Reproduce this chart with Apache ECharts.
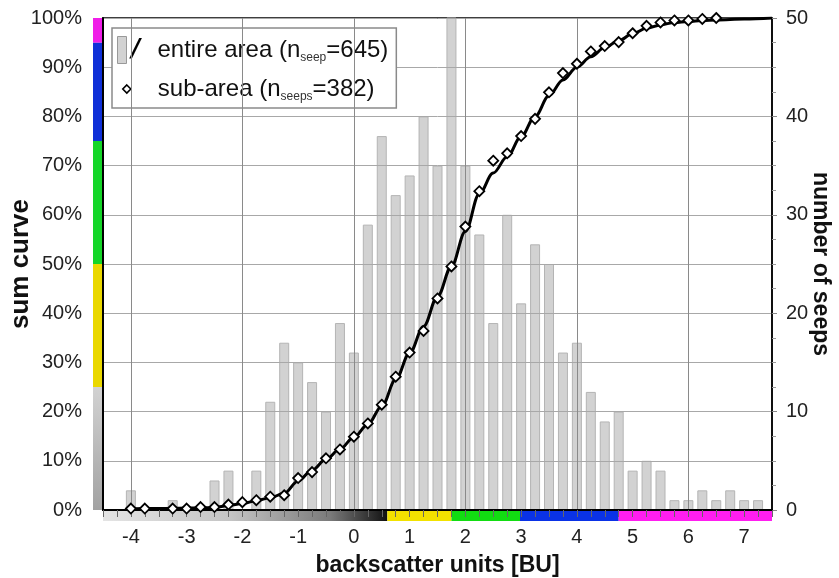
<!DOCTYPE html>
<html><head><meta charset="utf-8">
<script src="https://cdn.jsdelivr.net/npm/echarts@6/dist/echarts.min.js"></script>
<style>html,body{margin:0;padding:0;background:#fff}#c{width:839px;height:578px}</style>
</head><body><div id="c"></div>
<script>
// ---- data ----
const binCenters = [-4,-3.25,-2.5,-2.25,-1.75,-1.5,-1.25,-1,-0.75,-0.5,-0.25,0,
  0.25,0.5,0.75,1,1.25,1.5,1.75,2,2.25,2.5,2.75,3,3.25,3.5,3.75,4,4.25,4.5,4.75,
  5,5.25,5.5,5.75,6,6.25,6.5,6.75,7,7.25];
const seepCounts = [2,1,3,4,4,11,17,15,13,10,19,16,
  29,38,32,34,40,35,51,35,28,19,30,21,27,25,16,17,12,9,10,
  4,5,4,1,1,2,1,2,1,1];
const curveX = [-4,-3.75,-3.5,-3.25,-3,-2.75,-2.5,-2.25,-2,-1.75,-1.5,-1.25,-1,-0.75,-0.5,-0.25,
  0,0.25,0.5,0.75,1,1.25,1.5,1.75,2,2.25,2.5,2.75,3,3.25,3.5,3.75,4,4.25,4.5,4.75,
  5,5.25,5.5,5.75,6,6.25,6.5,7,7.5];
const curvePct = [0.2,0.3,0.3,0.35,0.4,0.45,0.5,0.9,1.3,1.9,2.5,3.4,5.9,8.1,10.3,12.4,
  14.8,17.4,21.1,26.5,31.9,37.3,43.4,49.5,56.6,64.3,68.5,71.8,75.9,80.0,84.2,87.4,90.0,92.1,94.0,95.4,
  96.8,97.9,98.6,99.1,99.3,99.5,99.6,99.8,100];
const subX = [-4,-3.75,-3.25,-3,-2.75,-2.5,-2.25,-2,-1.75,-1.5,-1.25,-1,-0.75,-0.5,-0.25,
  0,0.25,0.5,0.75,1,1.25,1.5,1.75,2,2.25,2.5,2.75,3,3.25,3.5,3.75,4,4.25,4.5,4.75,
  5,5.25,5.5,5.75,6,6.25,6.5];
const subPct = [0.3,0.3,0.3,0.3,0.6,0.6,1.1,1.6,2.0,2.7,3.0,6.5,7.7,10.5,12.3,
  14.9,17.6,21.4,27.1,32.0,36.4,43.0,49.5,57.6,64.8,71.0,72.5,76.0,79.5,84.9,88.8,90.7,93.2,94.3,95.1,
  96.9,98.4,99.1,99.5,99.5,99.8,100];
const sumBands = [0,25,50,75,95,100];          // % limits of the sum-curve classes
const buBands = [-4.5,0.6,1.75,2.98,4.75,7.5];  // BU limits of the same classes
const vGridBU = [-4,-2,0,2,4,6];
const xRange = [-4.5, 7.5];

// ---- styles ----
const FONT = 'Liberation Sans, Arial, sans-serif';
const grayGradH = new echarts.graphic.LinearGradient(0,0,1,0,[
  {offset:0,color:'#e4e4e4'},{offset:0.45,color:'#c4c4c4'},{offset:0.8,color:'#7a7a7a'},{offset:1,color:'#111'}]);
const grayGradV = new echarts.graphic.LinearGradient(0,0,0,1,[
  {offset:0,color:'#d2d2d2'},{offset:1,color:'#a2a2a2'}]);
const bandColorsH = [grayGradH,'#f2e200','#12dd12','#0a32e6','#ff1ef0'];
const bandColorsV = [grayGradV,'#ead800','#14d628','#1030d8','#f01ee8'];

function bandData(lims){const d=[];for(let i=0;i<lims.length-1;i++)d.push([lims[i],lims[i+1],i]);return d;}

const chart = echarts.init(document.getElementById('c'));
chart.setOption({
  animation:false,
  textStyle:{fontFamily:FONT},
  grid:[
    {left:103,right:67,top:18,bottom:68,show:true,borderColor:'#000',borderWidth:1.5,backgroundColor:'#fff',
     containLabel:false,outerBoundsMode:'none'},
    {left:103,right:67,top:511,height:10,containLabel:false,outerBoundsMode:'none'},
    {left:93,width:9,top:18,bottom:68,containLabel:false,outerBoundsMode:'none'}
  ],
  legend:[
    {left:112,top:28,padding:[8,8,44,5],itemWidth:9,itemHeight:27,selectedMode:false,
     backgroundColor:'#fff',borderColor:'#8a8a8a',borderWidth:1.5,borderRadius:0,z:4,
     data:[{name:'entire area',icon:'rect',itemStyle:{color:'#d2d2d2',borderColor:'#999',borderWidth:1}}],
     formatter:()=> '{sl|/}entire area (n{sub|seep}=645)',
     textStyle:{fontFamily:FONT,fontSize:24,color:'#111',lineHeight:28,
       rich:{sl:{fontFamily:'DejaVu Sans',fontSize:24,fontWeight:'bold',fontStyle:'italic',width:26,color:'#000',lineHeight:28},
             sub:{fontSize:12,color:'#333',verticalAlign:'bottom',lineHeight:13}}}},
    {left:122,top:75,padding:0,itemWidth:8,itemHeight:8,selectedMode:false,z:5,
     data:[{name:'sub-area',icon:'diamond',itemStyle:{color:'#fff',borderColor:'#000',borderWidth:1.6}}],
     formatter:()=> '{sp| }sub-area (n{sub|seeps}=382)',
     textStyle:{fontFamily:FONT,fontSize:24,color:'#111',lineHeight:28,
       rich:{sp:{width:22},sub:{fontSize:12,color:'#333',verticalAlign:'bottom',lineHeight:13}}}}
  ],
  xAxis:[
    {type:'value',gridIndex:0,min:xRange[0],max:xRange[1],interval:0.25,z:6,
     name:'backscatter units [BU]',nameLocation:'middle',nameGap:44,nameMoveOverlap:false,
     nameTextStyle:{fontFamily:FONT,fontSize:23,fontWeight:'bold',color:'#111'},
     axisLine:{show:true,onZero:false,lineStyle:{color:'#000',width:2}},
     axisTick:{show:true,length:7,lineStyle:{color:'#666',width:1}},
     axisLabel:{fontFamily:FONT,fontSize:20,color:'#222',margin:17,
       formatter:v=>Math.abs(v-Math.round(v))<1e-6?String(Math.round(v)):''},
     splitLine:{show:false}},
    {type:'value',gridIndex:1,min:xRange[0],max:xRange[1],show:false},
    {type:'value',gridIndex:2,min:0,max:1,show:false}
  ],
  yAxis:[
    {type:'value',gridIndex:0,min:0,max:100,interval:10,position:'left',z:3,
     name:'sum curve',nameLocation:'middle',nameGap:69,nameMoveOverlap:false,
     nameTextStyle:{fontFamily:FONT,fontSize:26,fontWeight:'bold',color:'#111'},
     axisLine:{show:true,onZero:false,lineStyle:{color:'#000',width:2}},
     axisTick:{show:false},
     axisLabel:{fontFamily:FONT,fontSize:20,color:'#222',margin:21,formatter:'{value}%'},
     splitLine:{show:true,lineStyle:{color:'#a8a8a8',width:1}}},
    {type:'value',gridIndex:0,min:0,max:50,interval:10,position:'right',z:3,
     name:'number of seeps',nameLocation:'middle',nameGap:37,nameRotate:-90,nameMoveOverlap:false,
     nameTextStyle:{fontFamily:FONT,fontSize:23,fontWeight:'bold',color:'#111'},
     axisLine:{show:true,onZero:false,lineStyle:{color:'#000',width:1.5}},
     axisTick:{show:true,length:5,lineStyle:{color:'#888'}},
     minorTick:{show:true,splitNumber:4,length:4,lineStyle:{color:'#999'}},
     axisLabel:{fontFamily:FONT,fontSize:20,color:'#222',margin:14},
     splitLine:{show:false}},
    {type:'value',gridIndex:1,min:0,max:1,show:false},
    {type:'value',gridIndex:2,min:sumBands[0],max:sumBands[sumBands.length-1],show:false}
  ],
  series:[
    {name:'entire area',type:'bar',xAxisIndex:0,yAxisIndex:1,barWidth:10,z:2,
     itemStyle:{color:'#d2d2d2',borderColor:'#b4b4b4',borderWidth:1},
     data:binCenters.map((x,i)=>[x,seepCounts[i]])},
    {name:'vgrid',type:'line',xAxisIndex:0,yAxisIndex:0,data:[],z:3,silent:true,
     markLine:{symbol:'none',silent:true,label:{show:false},
       lineStyle:{color:'#8a8a8a',width:1,type:'solid'},
       data:vGridBU.map(v=>({xAxis:v}))}},
    {name:'entire area curve',type:'line',xAxisIndex:0,yAxisIndex:0,z:5,
     smooth:0.35,smoothMonotone:'x',showSymbol:false,symbol:'none',
     lineStyle:{color:'#000',width:3},
     data:curveX.map((x,i)=>[x,curvePct[i]])},
    {name:'sub-area',type:'scatter',xAxisIndex:0,yAxisIndex:0,z:6,
     symbol:'diamond',symbolSize:[10,10],
     itemStyle:{color:'#fff',borderColor:'#000',borderWidth:1.8,opacity:1},
     data:subX.map((x,i)=>[x,subPct[i]])},
    {name:'buBands',type:'custom',xAxisIndex:1,yAxisIndex:2,z:1,silent:true,
     data:bandData(buBands),
     renderItem:(params,api)=>{
       const p0=api.coord([api.value(0),0]), p1=api.coord([api.value(1),1]);
       return {type:'rect',shape:{x:p0[0],y:p1[1],width:p1[0]-p0[0],height:p0[1]-p1[1]},
               style:{fill:bandColorsH[api.value(2)]}};
     }},
    {name:'sumBands',type:'custom',xAxisIndex:2,yAxisIndex:3,z:1,silent:true,
     data:bandData(sumBands),
     encode:{y:[0,1]},
     renderItem:(params,api)=>{
       const p0=api.coord([0,api.value(0)]), p1=api.coord([1,api.value(1)]);
       return {type:'rect',shape:{x:p0[0],y:p1[1],width:p1[0]-p0[0],height:p0[1]-p1[1]},
               style:{fill:bandColorsV[api.value(2)]}};
     }}
  ]
});
</script></body></html>
